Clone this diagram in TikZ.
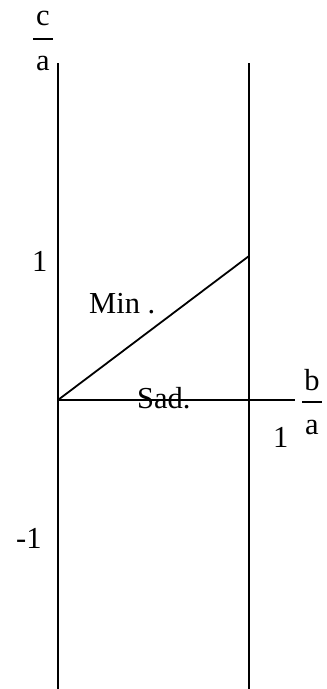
\documentclass[tikz,border=0pt]{standalone}
\usepackage{fontspec}
\setmainfont{Liberation Serif}
\usetikzlibrary{calc}

\begin{document}
\begin{tikzpicture}[x=1pt,y=-1pt,
  lbl/.style={anchor=base west,inner sep=0pt,font=\fontsize{30.5}{36}\selectfont},
  num/.style={anchor=base,inner sep=0pt,font=\fontsize{30.5}{36}\selectfont},
  axis/.style={line width=2.3pt},
  curve/.style={line width=1.8pt}]
  \useasboundingbox (0,0) rectangle (327,689);
  % axes and boundary lines
  \coordinate (O) at (58,400);
  \coordinate (ytop) at (58,63);
  \coordinate (ybot) at (58,689);
  \coordinate (rtop) at (249,63);
  \coordinate (rbot) at (249,689);
  \coordinate (xend) at (295,400);
  \coordinate (P) at (249,256);
  \draw[axis] (ytop) -- (ybot);
  \draw[axis] (rtop) -- (rbot);
  \draw[curve] (O) -- (xend);
  \draw[curve] (O) -- (P);
  % axis labels c/a and b/a
  \node[num] (cnum) at (43,25) {c};
  \node[num] (cden) at (43,70) {a};
  \draw[line width=1.3pt] (33,39) -- (53,39);
  \node[num] (bnum) at (312,390) {b};
  \node[num] (bden) at (312,434) {a};
  \draw[line width=1.3pt] (302,402) -- (322,402);
  % ticks and region names
  \node[lbl] (yone) at (32,271) {1};
  \node[lbl] (ymone) at (16,548) {-1};
  \node[lbl] (xone) at (273,447) {1};
  \node[lbl] (min) at (89,313) {Min .};
  \node[lbl] (sad) at (137,408) {Sad.};
\end{tikzpicture}
\end{document}
